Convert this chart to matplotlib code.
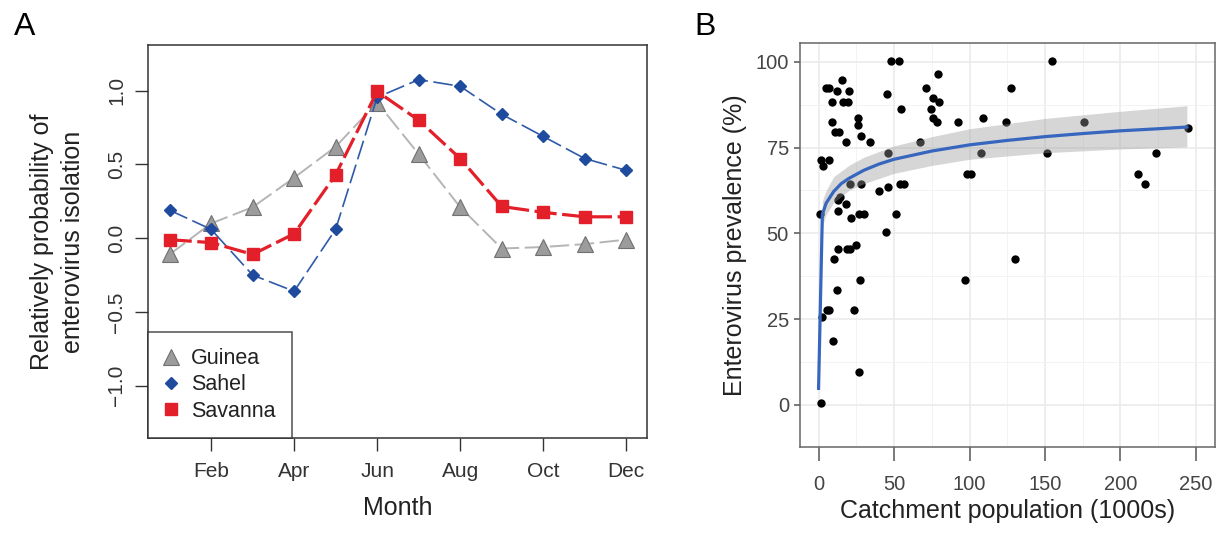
import matplotlib
matplotlib.use("Agg")
from matplotlib import pyplot as plt

plt.rcParams["font.family"] = ["Liberation Sans", "DejaVu Sans"]
plt.rcParams["lines.scale_dashes"] = False

# Panel A: monthly relative probability by region
months = list(range(1, 13))
month_ticks = [2, 4, 6, 8, 10, 12]
month_labels = ["Feb", "Apr", "Jun", "Aug", "Oct", "Dec"]
guinea = [-0.11, 0.10, 0.21, 0.41, 0.62, 0.92, 0.57, 0.21, -0.07, -0.06, -0.04, -0.01]
sahel = [0.19, 0.06, -0.25, -0.36, 0.06, 0.955, 1.075, 1.03, 0.84, 0.69, 0.54, 0.46]
savanna = [-0.01, -0.03, -0.11, 0.03, 0.43, 0.995, 0.80, 0.54, 0.215, 0.175, 0.145, 0.145]

# Panel B: catchment population vs prevalence
pop = [48.1, 53.4, 154.5, 79.4, 15.4, 5.1, 6.6, 12.4, 20.3, 71.5, 127.8, 45.2,
       8.8, 16.1, 19.4, 75.9, 80.1, 54.5, 74.6, 8.6, 25.8, 26.0, 75.7, 78.3,
       92.5, 109.2, 124.0, 176.1, 10.6, 13.7, 27.8, 18.3, 34.2, 66.9, 46.3,
       107.7, 151.4, 223.5, 244.5, 1.3, 7.1, 2.9, 98.2, 100.8, 211.4, 216.5,
       21.0, 27.8, 54.1, 56.9, 40.2, 46.1, 13.9, 12.6, 17.9, 12.6, 1.1, 21.4,
       26.7, 30.2, 51.2, 44.8, 12.8, 18.8, 21.0, 24.5, 10.2, 130.2, 27.4, 97.3,
       12.1, 5.3, 7.1, 2.6, 23.4, 9.5, 26.9, 1.3]
prev = [100.4, 100.4, 100.4, 96.6, 94.6, 92.5, 92.5, 91.5, 91.5, 92.5, 92.5, 90.5,
        88.4, 88.4, 88.4, 89.5, 88.4, 86.4, 86.4, 82.5, 83.6, 81.5, 83.6, 82.5,
        82.5, 83.5, 82.5, 82.5, 79.5, 79.5, 78.5, 76.5, 76.5, 76.5, 73.5,
        73.5, 73.5, 73.5, 80.6, 71.5, 71.5, 69.5, 67.4, 67.4, 67.4, 64.4,
        64.4, 64.4, 64.5, 64.5, 62.4, 63.4, 60.5, 59.7, 58.5, 56.5, 55.5, 54.5,
        55.5, 55.5, 55.5, 50.5, 45.5, 45.5, 45.5, 46.5, 42.5, 42.5, 36.5, 36.5,
        33.6, 27.6, 27.6, 25.6, 27.6, 18.5, 9.5, 0.5]

# fitted curve and confidence band
fit_x = [0, 2.5, 5, 10, 15, 20, 30, 40, 50, 75, 100, 125, 150, 175, 200, 225, 244]
fit_y = [4.8, 55.5, 58.8, 62.2, 64.5, 66.0, 68.4, 70.2, 71.6, 74.0, 75.8, 77.1,
         78.2, 79.1, 79.9, 80.5, 81.0]
band_x = [2.5, 5, 10, 20, 30, 50, 75, 100, 150, 200, 244]
band_lo = [52.0, 55.5, 59.0, 62.5, 64.5, 67.5, 69.8, 71.6, 73.5, 74.6, 75.2]
band_hi = [59.5, 62.5, 66.5, 69.8, 72.2, 75.5, 78.2, 80.5, 83.5, 85.6, 87.2]

fig = plt.figure(figsize=(12.24, 5.33), dpi=100)

# ---- A ----
ax = fig.add_axes([0.1209, 0.1782, 0.4077, 0.7374])
ax.plot(months, guinea, color="#b5b5b5", lw=1.4, dashes=(14, 4),
        marker="^", ms=11, mfc="#9c9c9c", mec="#707070", mew=0.8, label="Guinea")
ax.plot(months, sahel, color="#2f5aa8", lw=1.2, dashes=(14, 4),
        marker="D", ms=6.5, mfc="#1f4b9e", mec="#1f4b9e", label="Sahel")
ax.plot(months, savanna, color="#e3202a", lw=2.3, dashes=(16, 4),
        marker="s", ms=8.5, mfc="#e3202a", mec="#e3202a", label="Savanna")
ax.set_xlim(0.48, 12.5)
ax.set_ylim(-1.355, 1.31)
ax.set_xticks(month_ticks)
ax.set_xticklabels(month_labels)
yt = [-1.0, -0.5, 0.0, 0.5, 1.0]
ax.set_yticks(yt)
ax.set_yticklabels([f"{v:.1f}".replace("-", "\u2212") for v in yt],
                   rotation=90, va="center")
ax.tick_params(length=9.5, width=1, color="#333333", labelsize=15,
               labelcolor="#333333", pad=6)
ax.tick_params(axis="x", pad=7.5)
for s in ax.spines.values():
    s.set_color("#333333")
    s.set_linewidth(1.1)
ax.set_xlabel("Month", fontsize=18, color="#222222", labelpad=11)
ax.set_ylabel("Relatively probability of\nenterovirus isolation", fontsize=18,
              color="#222222", labelpad=16, linespacing=1.4)
leg = ax.legend(loc="lower left", bbox_to_anchor=(0, 0), borderaxespad=0,
                fancybox=False, frameon=True, fontsize=15.5, handlelength=0.6,
                handletextpad=0.65, labelspacing=0.25, borderpad=0.75)
leg.get_frame().set_edgecolor("#222222")
leg.get_frame().set_linewidth(1.1)
for h in leg.get_lines():
    h.set_linestyle("none")
for t in leg.get_texts():
    t.set_color("#222222")

# ---- B ----
bx = fig.add_axes([0.6536, 0.1613, 0.339, 0.758])
bx.scatter(pop, prev, s=36, color="black", zorder=2, linewidths=0)
bx.fill_between(band_x, band_lo, band_hi, color="#999999", alpha=0.4,
                lw=0, zorder=3)
bx.plot(fit_x, fit_y, color="#3766bf", lw=2.3, zorder=4)
bx.set_xlim(-12.3, 262.6)
bx.set_ylim(-12.3, 105.5)
bx.set_xticks([0, 50, 100, 150, 200, 250])
bx.set_yticks([0, 25, 50, 75, 100])
bx.set_xticks([25, 75, 125, 175, 225], minor=True)
bx.set_yticks([12.5, 37.5, 62.5, 87.5], minor=True)
bx.grid(True, which="major", color="#ebebeb", lw=1.2, zorder=0)
bx.grid(True, which="minor", color="#f3f3f3", lw=0.7, zorder=0)
bx.set_axisbelow(True)
bx.tick_params(axis="x", which="major", length=10, width=1.1, color="#555555",
               labelsize=14.5, labelcolor="#444444", pad=10)
bx.tick_params(axis="y", which="major", length=4, width=1.1, color="#555555",
               labelsize=14.5, labelcolor="#444444", pad=4)
bx.tick_params(which="minor", length=0)
for s in bx.spines.values():
    s.set_color("#666666")
    s.set_linewidth(1.1)
bx.set_xlabel("Catchment population (1000s)", fontsize=18, color="#222222",
              labelpad=4)
bx.set_ylabel("Enterovirus prevalence (%)", fontsize=18, color="#222222",
              labelpad=6)

fig.text(0.011, 0.978, "A", fontsize=23, va="top", ha="left")
fig.text(0.567, 0.978, "B", fontsize=23, va="top", ha="left")

fig.savefig("out.png", dpi=100)
